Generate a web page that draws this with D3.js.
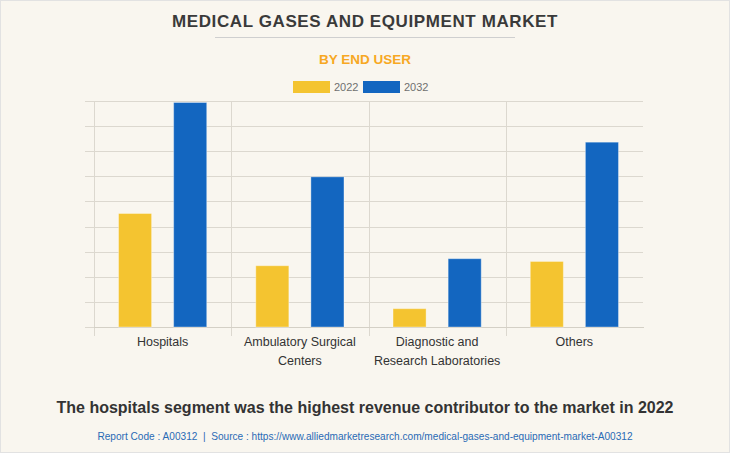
<!DOCTYPE html>
<html>
<head>
<meta charset="utf-8">
<script src="https://cdn.jsdelivr.net/npm/d3@7/dist/d3.min.js"></script>
<style>
  html, body { margin: 0; padding: 0; background: #f9f6ef; }
  svg { display: block; }
</style>
</head>
<body>
<div id="chart"></div>
<script>
const categories = [["Hospitals"], ["Ambulatory Surgical", "Centers"], ["Diagnostic and", "Research Laboratories"], ["Others"]];
const seriesNames = ["2022", "2032"];
const values2022 = [4.52, 2.44, 0.73, 2.61];
const values2032 = [8.94, 5.98, 2.72, 7.36];
const colors = ["#f4c430", "#1366c0"];

const W = 730, H = 453;
const svg = d3.select("#chart").append("svg").attr("width", W).attr("height", H);
svg.append("rect").attr("x", 0.5).attr("y", 0.5).attr("width", W - 1).attr("height", H - 1)
  .attr("fill", "#f9f6ef").attr("stroke", "#e2e2e2");

const font = "Arial, 'Liberation Sans', sans-serif";

svg.append("text").attr("x", 365).attr("y", 27).attr("text-anchor", "middle")
  .attr("font-family", font).attr("font-weight", "bold").attr("font-size", 17)
  .attr("letter-spacing", 0.6).attr("fill", "#3a3a3a").text("MEDICAL GASES AND EQUIPMENT MARKET");
svg.append("line").attr("x1", 215).attr("x2", 515).attr("y1", 37.5).attr("y2", 37.5)
  .attr("stroke", "#cfcfcf").attr("stroke-width", 1);
svg.append("text").attr("x", 365).attr("y", 64).attr("text-anchor", "middle")
  .attr("font-family", font).attr("font-weight", "bold").attr("font-size", 13.5)
  .attr("fill", "#f7a823").text("BY END USER");

// legend
const legX = [293, 363];
seriesNames.forEach((s, i) => {
  svg.append("rect").attr("x", legX[i]).attr("y", 81).attr("width", 37).attr("height", 12)
    .attr("fill", colors[i]);
  svg.append("text").attr("x", legX[i] + 41).attr("y", 91).attr("font-family", font)
    .attr("font-size", 11).attr("fill", "#707070").text(s);
});

const m = { left: 94, right: 643, top: 101, bottom: 327 };
const x = d3.scaleBand().domain(d3.range(categories.length)).range([m.left, m.right]).padding(0);
const y = d3.scaleLinear().domain([0, 9]).range([m.bottom, m.top]);

// horizontal grid
const g = svg.append("g");
g.selectAll("line.h").data(y.ticks(9)).enter().append("line")
  .attr("x1", m.left - 9).attr("x2", m.right)
  .attr("y1", d => Math.round(y(d)) + 0.5).attr("y2", d => Math.round(y(d)) + 0.5)
  .attr("stroke", "#dcd8cf").attr("stroke-width", 1);
// vertical separators
const bounds = d3.range(categories.length).map(i => x(i));
g.selectAll("line.v").data(bounds).enter().append("line")
  .attr("x1", d => Math.round(d) + 0.5).attr("x2", d => Math.round(d) + 0.5)
  .attr("y1", m.top).attr("y2", m.bottom + 9)
  .attr("stroke", "#dcd8cf").attr("stroke-width", 1);
// baseline
g.append("line").attr("x1", m.left).attr("x2", m.right + 1)
  .attr("y1", m.bottom + 0.5).attr("y2", m.bottom + 0.5).attr("stroke", "#d4d0c6");

const x1 = d3.scaleBand().domain([0, 1]).range([0, x.bandwidth()]).paddingInner(0.4).paddingOuter(0.445);
const series = [values2022, values2032];
series.forEach((vals, si) => {
  svg.append("g").selectAll("rect").data(vals).enter().append("rect")
    .attr("x", (d, i) => x(i) + x1(si))
    .attr("width", x1.bandwidth())
    .attr("y", d => y(d))
    .attr("height", d => m.bottom - y(d))
    .attr("fill", colors[si])
    .attr("stroke", "rgba(255,255,255,0.35)").attr("stroke-width", 1);
});

// category labels
categories.forEach((lines, i) => {
  const t = svg.append("text").attr("x", x(i) + x.bandwidth() / 2).attr("y", 346)
    .attr("text-anchor", "middle").attr("font-family", font).attr("font-size", 12.5).attr("fill", "#333");
  lines.forEach((l, j) => t.append("tspan").attr("x", x(i) + x.bandwidth() / 2).attr("dy", j === 0 ? 0 : 19).text(l));
});

svg.append("text").attr("x", 365).attr("y", 413).attr("text-anchor", "middle")
  .attr("font-family", font).attr("font-weight", "bold").attr("font-size", 16)
  .attr("fill", "#333").text("The hospitals segment was the highest revenue contributor to the market in 2022");
svg.append("text").attr("x", 365).attr("y", 440).attr("text-anchor", "middle")
  .attr("font-family", font).attr("font-size", 10.1).style("white-space", "pre")
  .attr("fill", "#2a6ab5").text("Report Code : A00312  |  Source : https://www.alliedmarketresearch.com/medical-gases-and-equipment-market-A00312");
</script>
</body>
</html>
